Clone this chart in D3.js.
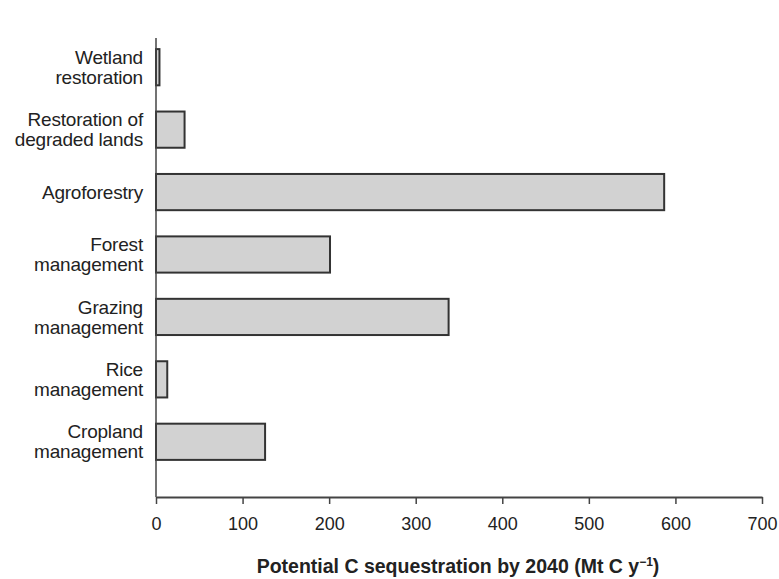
<!DOCTYPE html>
<html>
<head>
  <meta charset="utf-8">
  <title>Potential C sequestration</title>
  <style>
    body { margin: 0; background: #fff; }
    text { font-family: "Liberation Sans", Arial, sans-serif; fill: #222; }
  </style>
</head>
<body>
  <svg id="chart"></svg>

  <script src="https://d3js.org/d3.v7.min.js"></script>
  <script>
    // data (Mt C per year)
    const categories = [
      ["Wetland", "restoration"],
      ["Restoration of", "degraded lands"],
      ["Agroforestry"],
      ["Forest", "management"],
      ["Grazing", "management"],
      ["Rice", "management"],
      ["Cropland", "management"]
    ];
    const values = [4, 33, 587, 201, 338, 13, 126];
    const xTicks = [0, 100, 200, 300, 400, 500, 600, 700];

    const width = 779;
    const height = 579;

    const svg = d3.select("#chart")
      .attr("width", width)
      .attr("height", height);

    const x = d3.scaleLinear()
      .domain([0, 700])
      .range([156, 762]);

    const y = d3.scaleBand()
      .domain(d3.range(categories.length))
      .range([36, 473])
      .paddingInner(0.42)
      .paddingOuter(0.21);

    const axisY = 497;

    // bars
    svg.selectAll(".bar")
      .data(values)
      .enter().append("rect")
      .attr("class", "bar")
      .attr("x", x(0))
      .attr("y", (d, i) => y(i))
      .attr("width", d => x(d) - x(0))
      .attr("height", y.bandwidth())
      .attr("fill", "#d2d2d2")
      .attr("stroke", "#333")
      .attr("stroke-width", 2);

    // y axis line (no ticks)
    svg.append("line")
      .attr("x1", x(0)).attr("x2", x(0))
      .attr("y1", 38).attr("y2", axisY)
      .attr("stroke", "#444")
      .attr("stroke-width", 1.5);

    // category labels, one or two lines, right aligned
    const labels = svg.selectAll(".cat")
      .data(categories)
      .enter().append("text")
      .attr("class", "cat")
      .attr("text-anchor", "end")
      .style("font-size", "19px")
      .style("letter-spacing", "-0.2px")
      .attr("transform", (d, i) => `translate(143,${y(i) + y.bandwidth() / 2})`);

    labels.selectAll("tspan")
      .data(d => d.map((t, k) => ({ t, k, n: d.length })))
      .enter().append("tspan")
      .attr("x", 0)
      .attr("y", d => (d.k - (d.n - 1) / 2) * 20)
      .attr("dy", "0.35em")
      .text(d => d.t);

    // x axis
    const xAxis = svg.append("g")
      .attr("transform", `translate(0,${axisY})`)
      .call(d3.axisBottom(x).tickValues(xTicks).tickSize(7).tickSizeOuter(0).tickPadding(13));

    xAxis.select(".domain").attr("stroke", "#444").attr("stroke-width", 2);
    xAxis.selectAll(".tick line").attr("stroke", "#444").attr("stroke-width", 1.5);
    xAxis.selectAll(".tick text")
      .style("font-size", "18px")
      .style("font-family", "'Liberation Sans', Arial, sans-serif")
      .attr("fill", "#222");

    // axis title
    const title = svg.append("text")
      .attr("x", 458)
      .attr("y", 573)
      .attr("text-anchor", "middle")
      .style("font-size", "19.5px")
      .style("font-weight", "bold");
    title.append("tspan").text("Potential C sequestration by 2040 (Mt C y");
    title.append("tspan").attr("dy", -7).style("font-size", "12px").text("\u22121");
    title.append("tspan").attr("dy", 7).text(")");
  </script>
</body>
</html>
